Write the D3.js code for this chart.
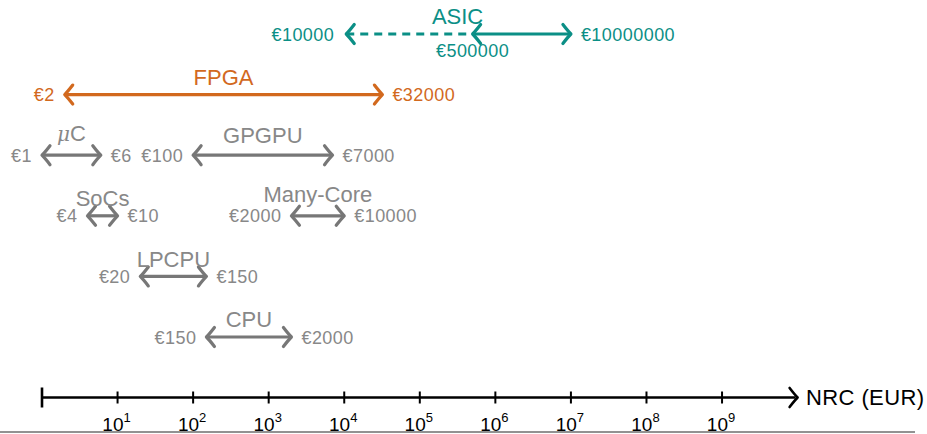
<!DOCTYPE html>
<html>
<head>
<meta charset="utf-8">
<script src="https://cdn.jsdelivr.net/npm/d3@7"></script>
<style>
  html, body { margin: 0; padding: 0; background: #fff; }
  svg { display: block; font-family: "Liberation Sans", Arial, Helvetica, sans-serif; }
</style>
</head>
<body>
<svg id="chart" width="927" height="434"></svg>
<script>
// Non-recurring cost ranges per platform (EUR)
const platforms = ["ASIC", "FPGA", "\u03bcC", "GPGPU", "SoCs", "Many-Core", "LPCPU", "CPU"];
const nrcLow    = [10000, 2, 1, 100, 4, 2000, 20, 150];
const nrcHigh   = [10000000, 32000, 6, 7000, 10, 10000, 150, 2000];
const nrcSplit  = [500000, null, null, null, null, null, null, null]; // dashed below, solid above
const rowOf     = [0, 1, 2, 2, 3, 3, 4, 5];
const colorOf   = ["teal", "orange", "gray", "gray", "gray", "gray", "gray", "gray"];
const tickExponents = [1, 2, 3, 4, 5, 6, 7, 8, 9];
const axisTitle = "NRC (EUR)";

// Layout: how far each platform name sits above its arrow (px)
const titleLift = [10, 10, 14, 12, 10, 14, 9, 10];

const palette = {
  teal:   { line: "#0b8f86", text: "#0b8f86" },
  orange: { line: "#d2691e", text: "#d2691e" },
  gray:   { line: "#777777", text: "#888888" }
};

const svg = d3.select("#chart");
const x = d3.scaleLog().domain([1, 1e10]).range([42, 797.6]);
const y = d3.scaleLinear().domain([0, 5]).range([34, 337]);
const axisY = 397.5;

// Curved "to"-style arrow head, tip at (0,0) pointing right
const headPath = "M-8,-9.5 Q-3,-3 0,0 Q-3,3 -8,9.5";
function head(g, px, py, dir, color, width) {
  g.append("path")
    .attr("d", headPath)
    .attr("transform", `translate(${px},${py}) scale(${dir},1)`)
    .attr("fill", "none")
    .attr("stroke", color)
    .attr("stroke-width", width)
    .attr("stroke-linecap", "round")
    .attr("stroke-linejoin", "round");
}

const euro = v => "\u20ac" + v;
const valueFont = 18, valueSpacing = 0.45;

platforms.forEach((name, i) => {
  const c = palette[colorOf[i]];
  const yy = y(rowOf[i]);
  const x0 = x(nrcLow[i]), x1 = x(nrcHigh[i]);
  const g = svg.append("g");

  if (nrcSplit[i] != null) {
    const xs = x(nrcSplit[i]);
    g.append("line")
      .attr("x1", x0 + 2).attr("x2", xs).attr("y1", yy).attr("y2", yy)
      .attr("stroke", c.line).attr("stroke-width", 3.2)
      .attr("stroke-dasharray", "8,6");
    head(g, x0 + 2, yy, -1, c.line, 3.2);
    g.append("line")
      .attr("x1", xs).attr("x2", x1 - 1).attr("y1", yy).attr("y2", yy)
      .attr("stroke", c.line).attr("stroke-width", 3.2);
    head(g, xs, yy, -1, c.line, 3.2);
    head(g, x1, yy, 1, c.line, 3.2);
    g.append("text")
      .attr("x", xs).attr("y", yy + 23)
      .attr("text-anchor", "middle")
      .attr("font-size", valueFont).attr("letter-spacing", valueSpacing).attr("fill", c.text)
      .text(euro(nrcSplit[i]));
  } else {
    g.append("line")
      .attr("x1", x0 + 1).attr("x2", x1 - 1).attr("y1", yy).attr("y2", yy)
      .attr("stroke", c.line).attr("stroke-width", 3.2);
    head(g, x0, yy, -1, c.line, 3.2);
    head(g, x1, yy, 1, c.line, 3.2);
  }

  g.append("text")
    .attr("x", x0 - 10).attr("y", yy + 6.5)
    .attr("text-anchor", "end")
    .attr("font-size", valueFont).attr("letter-spacing", valueSpacing).attr("fill", c.text)
    .text(euro(nrcLow[i]));
  g.append("text")
    .attr("x", x1 + 10).attr("y", yy + 6.5)
    .attr("text-anchor", "start")
    .attr("font-size", valueFont).attr("letter-spacing", valueSpacing).attr("fill", c.text)
    .text(euro(nrcHigh[i]));

  const t = g.append("text")
    .attr("x", (x0 + x1) / 2).attr("y", yy - titleLift[i])
    .attr("text-anchor", "middle")
    .attr("font-size", 22).attr("fill", c.text);
  if (name.startsWith("\u03bc")) {
    t.append("tspan").attr("font-style", "italic").attr("font-family", "DejaVu Serif, serif").attr("font-size", 20).text("\u03bc");
    t.append("tspan").text(name.slice(1));
  } else {
    t.text(name);
  }
});

// Cost axis
const ax = svg.append("g");
ax.append("line")
  .attr("x1", x(1)).attr("x2", x(1e10) - 2).attr("y1", axisY).attr("y2", axisY)
  .attr("stroke", "#000").attr("stroke-width", 2.6);
ax.append("line")
  .attr("x1", x(1)).attr("x2", x(1)).attr("y1", axisY - 10).attr("y2", axisY + 10)
  .attr("stroke", "#000").attr("stroke-width", 2.6);
head(ax, x(1e10), axisY, 1, "#000", 2.6);

tickExponents.forEach(e => {
  const tx = x(Math.pow(10, e));
  ax.append("line")
    .attr("x1", tx).attr("x2", tx).attr("y1", axisY - 6).attr("y2", axisY + 6)
    .attr("stroke", "#000").attr("stroke-width", 2);
  const lab = ax.append("text")
    .attr("x", tx - 1).attr("y", 431)
    .attr("text-anchor", "middle")
    .attr("font-size", 19).attr("fill", "#000");
  lab.append("tspan").text("10");
  lab.append("tspan").attr("dy", -9).attr("font-size", 13).text(e);
});

ax.append("text")
  .attr("x", 806).attr("y", axisY + 7.5)
  .attr("font-size", 22).attr("letter-spacing", 0.4).attr("fill", "#000")
  .text(axisTitle);

svg.append("line")
  .attr("x1", 0).attr("x2", 915).attr("y1", 432).attr("y2", 432)
  .attr("stroke", "#6e6e6e").attr("stroke-width", 1.5);
</script>
</body>
</html>
